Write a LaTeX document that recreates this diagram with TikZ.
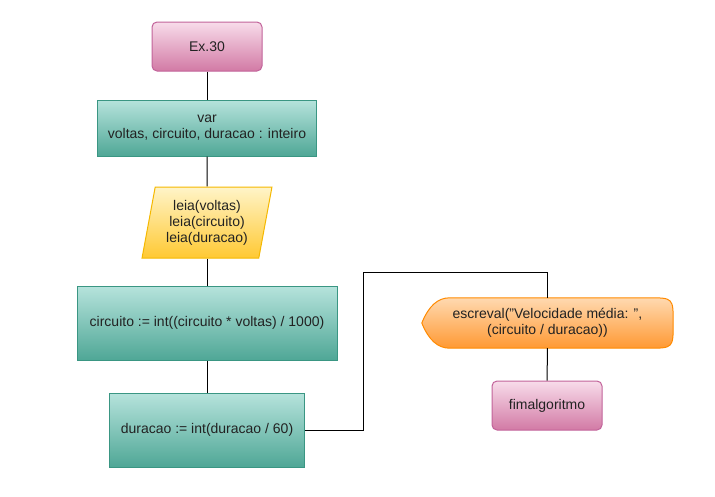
\documentclass[tikz,border=0pt]{standalone}
\usepackage{fontspec}
\setmainfont{Liberation Sans}
\usepackage{tikz}
\usetikzlibrary{shapes.geometric, positioning, backgrounds}
\definecolor{pinktop}{HTML}{F8DCEA}
\definecolor{pinkbot}{HTML}{D27AA5}
\definecolor{pinkline}{HTML}{C2639A}
\definecolor{tealtop}{HTML}{B6E3DC}
\definecolor{tealbot}{HTML}{4FA796}
\definecolor{tealline}{HTML}{3A9683}
\definecolor{yeltop}{HTML}{FFF4C8}
\definecolor{yelbot}{HTML}{FFC933}
\definecolor{yelline}{HTML}{F5B800}
\definecolor{oratop}{HTML}{FFD9B0}
\definecolor{orabot}{HTML}{FF9933}
\definecolor{oraline}{HTML}{FF8A00}
\definecolor{txtgray}{HTML}{222222}

\begin{document}
\begin{tikzpicture}[x=1pt,y=-1pt,
  txt/.style={font=\fontsize{14}{16}\selectfont, text=txtgray, align=center, inner sep=0pt},
  term node/.style={txt, rectangle, rounded corners=5pt, draw=pinkline, line width=1pt,
  top color=pinktop, bottom color=pinkbot, minimum width=110pt, minimum height=49pt},
  proc node/.style={txt, rectangle, draw=tealline, line width=1pt, top color=tealtop, bottom color=tealbot},
  io node/.style={txt, trapezium, trapezium left angle=77, trapezium right angle=103,
  trapezium stretches=true, draw=yelline, line width=1pt, top color=yeltop, bottom color=yelbot,
  minimum width=130pt, minimum height=71pt},
  wire/.style={draw=black, line width=1pt}]
  \useasboundingbox (0,0) rectangle (715,496);

  \node[term node] (start) at (207,46.5) {Ex.30};
  \node[proc node, minimum width=219pt, minimum height=56pt] (vars) at (207,128) {var\\voltas, circuito, duracao : inteiro};
  \node[io node] (leia) at (207,222.5) {leia(voltas)\\leia(circuito)\\leia(duracao)};
  \node[proc node, minimum width=260pt, minimum height=74pt] (circ) at (207,323) {circuito := int((circuito * voltas) / 1000)};
  \node[proc node, minimum width=195pt, minimum height=74pt] (dur) at (207,430) {duracao := int(duracao / 60)};

  \node[txt, minimum width=251pt, minimum height=50pt] (esc) at (547.5,323) {escreval(\symbol{34}Velocidade média: \symbol{34},\\(circuito / duracao))};
  \node[term node] (fim) at (547,405.5) {fimalgoritmo};
  \coordinate (bend) at (363,272);

  % display shape behind the text
  \begin{scope}[on background layer]
    \shade[draw=oraline, line width=1pt, top color=oratop, bottom color=orabot]
      (esc.west) .. controls ([xshift=7pt,yshift=-8pt]esc.north west) and ([xshift=16pt]esc.north west) .. ([xshift=28pt]esc.north west)
      -- ([xshift=-25pt]esc.north east) .. controls (esc.north east) .. (esc.east)
      .. controls (esc.south east) .. ([xshift=-25pt]esc.south east)
      -- ([xshift=28pt]esc.south west) .. controls ([xshift=16pt]esc.south west) and ([xshift=7pt,yshift=8pt]esc.south west) .. (esc.west)
      -- cycle;
  \end{scope}

  \path[wire]
     (start) edge (vars)
     (vars) edge (leia)
     (leia) edge (circ)
     (circ) edge (dur)
     (esc) edge (fim);
  \draw[wire] (dur.east) -| (bend) -| (esc.north);
\end{tikzpicture}
\end{document}
